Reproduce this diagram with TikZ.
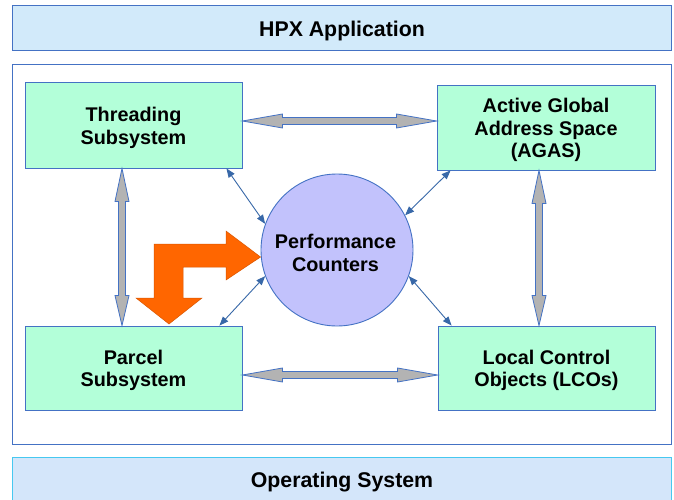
\documentclass[tikz,border=0pt]{standalone}
\usepackage{fontspec}
\setmainfont{Liberation Sans}
\usetikzlibrary{arrows.meta,calc}
\definecolor{bordblue}{RGB}{68,114,196}
\definecolor{barfill}{RGB}{210,234,250}
\definecolor{osfill}{RGB}{212,230,250}
\definecolor{oscyan}{RGB}{70,200,240}
\definecolor{mint}{RGB}{179,255,217}
\definecolor{lav}{RGB}{194,194,252}
\definecolor{grayarr}{RGB}{179,179,179}
\definecolor{thinblue}{RGB}{56,104,168}
\definecolor{orangef}{RGB}{255,102,0}
\tikzset{
  lbl/.style={font=\fontsize{19.8}{22.5}\selectfont\bfseries, align=center},
  bartext/.style={font=\fontsize{21.3}{24}\selectfont\bfseries},
  bar/.style={draw=bordblue, line width=0.9pt, fill=barfill, inner sep=0pt},
  subbox/.style={draw=bordblue, line width=0.9pt, fill=mint, inner sep=0pt},
  garrow/.style={draw=bordblue, line width=0.8pt, fill=grayarr, line join=miter},
  thin/.style={draw=thinblue, line width=0.9pt, {Triangle[length=9pt,width=7pt]}-{Triangle[length=9pt,width=7pt]}},
}
\newcommand\hgarrow[2]{%
  \draw[garrow] let \p1=(#1), \p2=(#2) in
  (\x1,\y1) -- (\x1+40pt,\y1+7pt) -- (\x1+40pt,\y1+3.5pt) -- (\x2-40pt,\y1+3.5pt) -- (\x2-40pt,\y1+7pt)
  -- (\x2,\y1) -- (\x2-40pt,\y1-7pt) -- (\x2-40pt,\y1-3.5pt) -- (\x1+40pt,\y1-3.5pt) -- (\x1+40pt,\y1-7pt) -- cycle;}
\newcommand\vgarrow[2]{%
  \draw[garrow] let \p1=(#1), \p2=(#2) in
  (\x1,\y1) -- (\x1+7pt,\y1-33pt) -- (\x1+3.5pt,\y1-33pt) -- (\x1+3.5pt,\y2+30pt) -- (\x1+7pt,\y2+30pt)
  -- (\x1,\y2) -- (\x1-7pt,\y2+30pt) -- (\x1-3.5pt,\y2+30pt) -- (\x1-3.5pt,\y1-33pt) -- (\x1-7pt,\y1-33pt) -- cycle;}
\begin{document}
\begin{tikzpicture}[x=1pt,y=-1pt]
\useasboundingbox (0,0) rectangle (674,500);
% bars
\node[bar, minimum width=659pt, minimum height=45pt] (hpx) at (341.5,27.5) {};
\node[bartext] (hpxt) at (342,30.5) {HPX Application};
\node[draw=bordblue, line width=0.9pt, fill=white, minimum width=659pt, minimum height=380pt] (outer) at (341.5,254) {};
\node[draw=oscyan, line width=0.9pt, fill=osfill, minimum width=659pt, minimum height=48pt, inner sep=0pt] (os) at (341.5,481) {};
\node[bartext] (ostext) at (342,482) {Operating System};
% boxes
\node[subbox, minimum width=217pt, minimum height=86pt] (thr) at (133.5,125) {};
\node[lbl] (thrt) at (133.5,128) {Threading\\Subsystem};
\node[subbox, minimum width=218pt, minimum height=85pt] (agas) at (546,127.5) {};
\node[lbl] (agast) at (546,130) {Active Global\\Address Space\\(AGAS)};
\node[subbox, minimum width=217pt, minimum height=84pt] (par) at (133.5,368) {};
\node[lbl] (part) at (133.5,370.5) {Parcel\\Subsystem};
\node[subbox, minimum width=217pt, minimum height=84pt] (lco) at (546.5,368) {};
\node[lbl] (lcot) at (546.5,370.5) {Local Control\\Objects (LCOs)};
\node[circle, draw=bordblue, line width=0.9pt, fill=lav, minimum size=152pt, inner sep=0pt] (pc) at (337,250) {};
\node[lbl] (pct) at (335.5,253) {Performance\\Counters};
% gray block arrows
\coordinate (h1a) at (thr.east |- 0,121);
\coordinate (h1b) at (agas.west |- 0,121);
\coordinate (h2a) at (par.east |- 0,375);
\coordinate (h2b) at (lco.west |- 0,375);
\coordinate (v1a) at (122,0 |- thr.south);
\coordinate (v1b) at (122,0 |- par.north);
\coordinate (v2a) at (539,0 |- agas.south);
\coordinate (v2b) at (539,0 |- lco.north);
\hgarrow{h1a}{h1b}
\hgarrow{h2a}{h2b}
\vgarrow{v1a}{v1b}
\vgarrow{v2a}{v2b}
% thin arrows
\draw[thin] ([xshift=-16pt]thr.south east) -- (pc.160);
\draw[thin] ([xshift=-23pt]par.north east) -- (pc.200);
\draw[thin] ([xshift=14pt]agas.south west) -- (pc.27);
\draw[thin] ([xshift=14pt]lco.north west) -- (pc.-20);
% orange bent arrow
\draw[draw=orangef!85!black, line width=0.5pt, fill=orangef, line join=miter]
  (pc.west |- 0,257) -- (226,231) -- (226,244) -- (154,244) -- (154,298) -- (136,298)
  -- (169,324) -- (202,298) -- (183,298) -- (183,267) -- (226,267) -- (226,280) -- cycle;
\end{tikzpicture}
\end{document}
